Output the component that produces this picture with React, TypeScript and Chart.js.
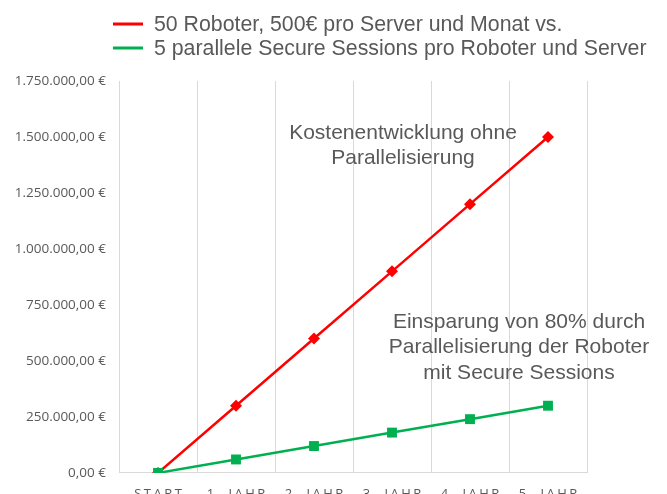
import React, { useEffect, useRef } from "react";
import { Chart, registerables } from "chart.js";

Chart.register(...registerables);

const categories = ["START", "1. JAHR", "2. JAHR", "3. JAHR", "4. JAHR", "5. JAHR"];
const ohneParallel = [0, 300000, 600000, 900000, 1200000, 1500000];
const mitParallel = [0, 60000, 120000, 180000, 240000, 300000];
const seriesLabels = [
  "50 Roboter, 500€ pro Server und Monat vs.",
  "5 parallele Secure Sessions pro Roboter und Server",
];
const annotationTop = ["Kostenentwicklung ohne", "Parallelisierung"];
const annotationBottom = ["Einsparung von 80% durch", "Parallelisierung der Roboter", "mit Secure Sessions"];

const RED = "#FF0000";
const GREEN = "#00B050";
const TEXT = "#595959";
const GRID = "#D9D9D9";

function fmtEuro(v: number): string {
  const n = Math.round(v);
  const s = String(n);
  let out = "";
  for (let i = 0; i < s.length; i++) {
    const pos = s.length - i;
    out += s[i];
    if (pos > 1 && (pos - 1) % 3 === 0) out += ".";
  }
  return out + ",00 €";
}

const overlayPlugin = {
  id: "overlay",
  afterDraw(chart: any) {
    const ctx = chart.ctx as CanvasRenderingContext2D;
    ctx.save();
    // legend
    const colors = [RED, GREEN];
    const rowsY = [24, 48];
    ctx.font = '21.3px "Liberation Sans", Arial, sans-serif';
    ctx.textBaseline = "middle";
    ctx.textAlign = "left";
    for (let i = 0; i < seriesLabels.length; i++) {
      ctx.strokeStyle = colors[i];
      ctx.lineWidth = 3;
      ctx.beginPath();
      ctx.moveTo(113, rowsY[i]);
      ctx.lineTo(143, rowsY[i]);
      ctx.stroke();
      ctx.fillStyle = TEXT;
      ctx.fillText(seriesLabels[i], 154, rowsY[i] + 1);
    }
    // annotations
    ctx.font = '21px "Liberation Sans", Arial, sans-serif';
    ctx.textAlign = "center";
    annotationTop.forEach((t, i) => ctx.fillText(t, 403, 133 + i * 25));
    annotationBottom.forEach((t, i) => ctx.fillText(t, 519, 322 + i * 25.5));
    // x labels with letter spacing
    const xs = chart.scales.x;
    ctx.font = '13px "Open Sans", sans-serif';
    (ctx as any).letterSpacing = "2.5px";
    ctx.textBaseline = "alphabetic";
    categories.forEach((c, i) => {
      const px = xs.getPixelForValue(i);
      ctx.fillText(c, px + 1.25, 497.5);
    });
    ctx.restore();
  },
};

export default function App() {
  const ref = useRef<HTMLCanvasElement | null>(null);
  useEffect(() => {
    document.body.style.margin = "0";
    if (!ref.current) return;
    const chart = new Chart(ref.current, {
      type: "line",
      data: {
        labels: categories,
        datasets: [
          {
            label: seriesLabels[0],
            data: ohneParallel,
            borderColor: RED,
            backgroundColor: RED,
            borderWidth: 2.5,
            pointStyle: "rectRot",
            pointRadius: 6,
            pointBorderWidth: 0,
            order: 2,
          },
          {
            label: seriesLabels[1],
            data: mitParallel,
            borderColor: GREEN,
            backgroundColor: GREEN,
            borderWidth: 2.5,
            pointStyle: "rect",
            pointRadius: 7,
            pointBorderWidth: 0,
            order: 1,
          },
        ],
      },
      options: {
        responsive: false,
        animation: false,
        layout: { padding: { top: 81, right: 80, bottom: 0, left: 0 } },
        plugins: { legend: { display: false }, tooltip: { enabled: false } },
        scales: {
          x: {
            offset: true,
            afterFit(scale: any) {
              scale.height = 18;
            },
            grid: { offset: true, color: GRID, lineWidth: 1, drawTicks: false },
            border: { display: true, color: GRID },
            ticks: { display: false },
          },
          y: {
            min: 0,
            max: 1750000,
            afterFit(scale: any) {
              scale.width = 119;
            },
            grid: { display: false, drawTicks: false },
            border: { display: false },
            ticks: {
              stepSize: 250000,
              padding: 13,
              color: TEXT,
              font: { family: '"Open Sans", sans-serif', size: 13.5 },
              callback: (v: any) => fmtEuro(Number(v)),
            },
          },
        },
      },
      plugins: [overlayPlugin],
    });
    return () => chart.destroy();
  }, []);
  return (
    <div style={{ width: 667, height: 494 }}>
      <canvas ref={ref} width={667} height={494} />
    </div>
  );
}
